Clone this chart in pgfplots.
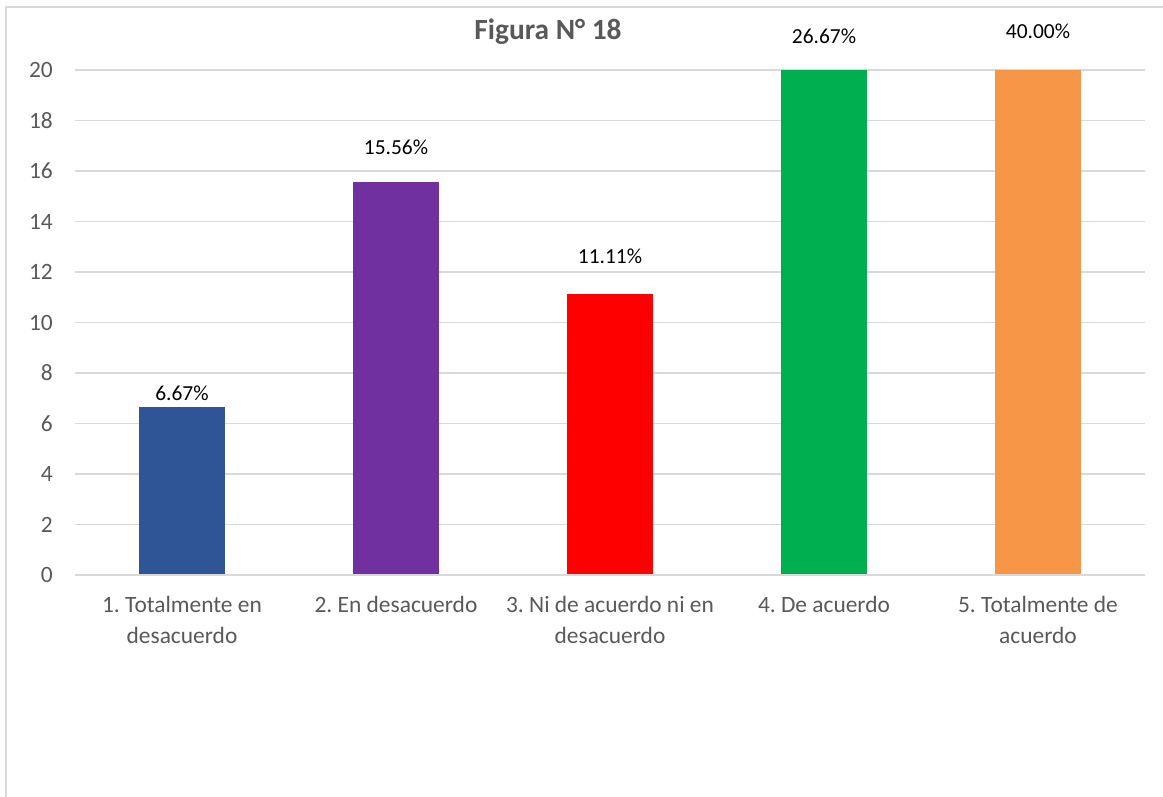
\documentclass[border=0pt]{standalone}
\usepackage{pgfplots}
\pgfplotsset{compat=1.18}
\usepackage{fontspec}
\setmainfont{Carlito}
\frenchspacing
\definecolor{gridc}{HTML}{D9D9D9}
\definecolor{tickc}{HTML}{595959}
\definecolor{c1}{HTML}{2F5597}
\definecolor{c2}{HTML}{7030A0}
\definecolor{c3}{HTML}{FF0000}
\definecolor{c4}{HTML}{00B050}
\definecolor{c5}{HTML}{F79646}
\begin{document}
\begin{tikzpicture}[x=1bp,y=1bp]
\useasboundingbox (0,0) rectangle (1163,797);
\draw[gridc, line width=2bp] (6,-10) -- (6,790) -- (1180,790);
\node[font=\fontsize{29.5}{34}\selectfont\bfseries, text=tickc] at (548,765) {Figura N° 18};
\begin{axis}[
  at={(75bp,222bp)}, anchor=south west,
  scale only axis, width=1070bp, height=505bp,
  xmin=-0.5, xmax=4.5, ymin=0, ymax=20,
  axis line style={draw=none},
  ytick={0,2,...,20},
  /pgf/number format/assume math mode=true,
  ymajorgrids, grid style={gridc, line width=1.5bp},
  major tick length=0pt,
  xtick={0,1,2,3,4},
  xticklabels={{1. Totalmente en\\desacuerdo},{2. En desacuerdo},{3. Ni de acuerdo ni en\\desacuerdo},{4. De acuerdo},{5. Totalmente de\\acuerdo}},
  xticklabel style={align=center, font=\fontsize{23.5}{31}\selectfont, text=tickc, inner sep=0pt, anchor=north, yshift=-21bp},
  yticklabel style={font=\fontsize{23.5}{26}\selectfont, text=tickc, inner sep=0pt, anchor=east, xshift=-22bp},
  clip=false,
]
\addplot[ybar, bar width=86bp, bar shift=0pt, fill=c1, draw=none, restrict y to domain*=0:20] coordinates {(0,6.67)};
\addplot[ybar, bar width=86bp, bar shift=0pt, fill=c2, draw=none, restrict y to domain*=0:20] coordinates {(1,15.56)};
\addplot[ybar, bar width=86bp, bar shift=0pt, fill=c3, draw=none, restrict y to domain*=0:20] coordinates {(2,11.11)};
\addplot[ybar, bar width=86bp, bar shift=0pt, fill=c4, draw=none, restrict y to domain*=0:20] coordinates {(3,26.67)};
\addplot[ybar, bar width=86bp, bar shift=0pt, fill=c5, draw=none, restrict y to domain*=0:20] coordinates {(4,40.00)};
\addplot[draw=none, mark=none, nodes near coords, point meta=explicit symbolic,
  every node near coord/.append style={anchor=center, inner sep=0pt, text=black, font=\fontsize{21.5}{24}\selectfont}]
  table[meta=label] {
x ly label
0 7.21 6.67\%
1 16.95 15.56\%
2 12.63 11.11\%
3 21.35 26.67\%
4 21.54 40.00\%
};
\draw[gridc, line width=1.5bp] (axis cs:-0.5,0) -- (axis cs:4.5,0);
\end{axis}
\end{tikzpicture}
\end{document}
